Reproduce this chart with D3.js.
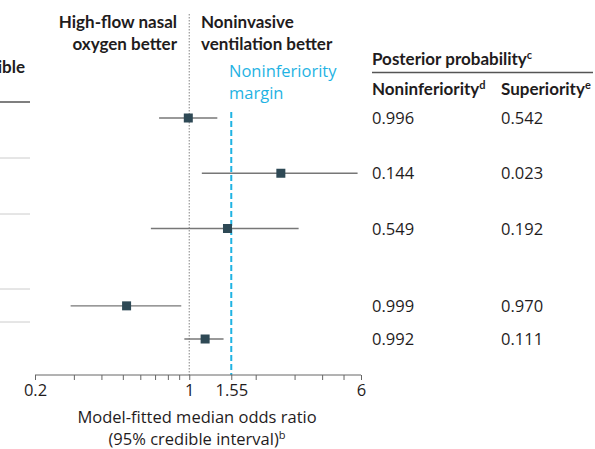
<!DOCTYPE html>
<html>
<head>
<meta charset="utf-8">
<script src="https://cdn.jsdelivr.net/npm/d3@7"></script>
<style>
  body { margin: 0; background: #fff; }
  svg { display: block; font-family: "Open Sans", sans-serif; }
  .hd { font-family: Lato, "Open Sans", sans-serif; font-weight: bold; font-size: 17px; }
</style>
</head>
<body>
<svg id="chart"></svg>
<script>
// rows of the forest plot (left labels are cut off in the source)
var rows = ["row1", "row2", "row3", "row4", "row5"];
var medianOR = [0.99, 2.6, 1.49, 0.52, 1.18];
var lowerCI = [0.73, 1.14, 0.67, 0.29, 0.95];
var upperCI = [1.34, 5.79, 3.13, 0.92, 1.43];
var pNoninf = ["0.996", "0.144", "0.549", "0.999", "0.992"];
var pSuper = ["0.542", "0.023", "0.192", "0.970", "0.111"];
var majorTicks = [0.2, 1, 1.55, 6];
var minorTicks = [0.3, 0.4, 0.5, 0.6, 0.7, 0.8, 0.9, 2, 3, 4, 5];
var margin = 1.55;
var nullValue = 1;
// row slots in the left table (rows take different numbers of text lines)
var rowSlot = [0, 5, 10, 17, 20];

var width = 595, height = 449;
var textColor = "#1f1c1d";
var cyan = "#1fb3e3";
var markColor = "#2e4955";

var svg = d3.select("#chart").attr("width", width).attr("height", height);

var x = d3.scaleLog().domain([0.2, 6]).range([35, 361]);
var y = d3.scaleLinear().domain([0, 20]).range([118, 339]);
var axisY = 375;

var data = rows.map(function (r, i) {
  return { row: r, est: medianOR[i], lo: lowerCI[i], hi: upperCI[i], slot: rowSlot[i] };
});

// left table separators (cut off)
var sepY = [102, 158, 214, 289, 322];
svg.selectAll(".sep")
  .data(sepY)
  .enter()
  .append("line")
  .attr("x1", 0).attr("x2", 30)
  .attr("y1", function (d) { return d; })
  .attr("y2", function (d) { return d; })
  .attr("stroke", function (d, i) { return i == 0 ? "#555" : "#ccc"; })
  .attr("stroke-width", function (d, i) { return i == 0 ? 1.5 : 1; });

svg.append("text")
  .attr("class", "hd")
  .attr("x", 25).attr("y", 73)
  .attr("text-anchor", "end")
  .attr("fill", textColor)
  .text("ible");

// reference lines
svg.append("line")
  .attr("x1", x(nullValue)).attr("x2", x(nullValue))
  .attr("y1", 14).attr("y2", axisY)
  .attr("stroke", "#999").attr("stroke-width", 1.2)
  .attr("stroke-dasharray", "1.5,1.5");

svg.append("line")
  .attr("x1", x(margin)).attr("x2", x(margin))
  .attr("y1", 112).attr("y2", axisY)
  .attr("stroke", cyan).attr("stroke-width", 2)
  .attr("stroke-dasharray", "6,3");

// header text
function lines(txt, xp, yp, anchor, color, cls) {
  var t = svg.append("text")
    .attr("class", cls)
    .attr("text-anchor", anchor)
    .attr("fill", color);
  if (!cls) t.style("font-size", "16.5px");
  txt.forEach(function (s, i) {
    t.append("tspan").attr("x", xp).attr("y", yp + i * 22).text(s);
  });
  return t;
}
lines(["High-flow nasal", "oxygen better"], 177, 28, "end", textColor, "hd");
lines(["Noninvasive", "ventilation better"], 201, 28, "start", textColor, "hd");
lines(["Noninferiority", "margin"], 229, 77, "start", cyan, null);

// axis
var xaxis = d3.axisBottom(x).tickValues(majorTicks.concat(minorTicks)).tickSize(5)
  .tickFormat(function (d) { return majorTicks.indexOf(d) >= 0 ? d : ""; });
var gx = svg.append("g")
  .attr("transform", "translate(0," + axisY + ")")
  .attr("font-family", "Open Sans")
  .attr("font-size", 16.5)
  .call(xaxis);
gx.attr("font-family", "Open Sans").attr("font-size", 16.5);
gx.select(".domain").attr("stroke", "#666").attr("d", "M35,0H361");
gx.selectAll(".tick line").attr("stroke", "#666");
gx.selectAll(".tick text")
  .attr("fill", textColor)
  .attr("y", 9);

var xl = svg.append("text")
  .attr("text-anchor", "middle")
  .attr("fill", textColor)
  .style("font-size", "16.5px");
xl.append("tspan").attr("x", 197).attr("y", 423).text("Model-fitted median odds ratio");
xl.append("tspan").attr("x", 197).attr("y", 445).text("(95% credible interval)");
xl.append("tspan").attr("dy", -6).style("font-size", "11px").text("b");

// CIs and points
svg.selectAll(".ci")
  .data(data)
  .enter()
  .append("line")
  .attr("class", "ci")
  .attr("x1", function (d) { return x(d.lo); })
  .attr("x2", function (d) { return x(d.hi); })
  .attr("y1", function (d) { return y(d.slot); })
  .attr("y2", function (d) { return y(d.slot); })
  .attr("stroke", "#777")
  .attr("stroke-width", 1.3);

svg.selectAll(".dot")
  .data(data)
  .enter()
  .append("rect")
  .attr("class", "dot")
  .attr("x", function (d) { return x(d.est) - 4.5; })
  .attr("y", function (d) { return y(d.slot) - 4.5; })
  .attr("width", 9)
  .attr("height", 9)
  .attr("fill", markColor);

// right table
var col1 = 372, col2 = 501;
var ph = svg.append("text")
  .attr("class", "hd")
  .attr("x", col1).attr("y", 65)
  .attr("fill", textColor);
ph.append("tspan").text("Posterior probability");
ph.append("tspan").attr("dy", -6).style("font-size", "11px").text("c");

svg.append("line")
  .attr("x1", col1).attr("x2", 593)
  .attr("y1", 72.5).attr("y2", 72.5)
  .attr("stroke", "#555").attr("stroke-width", 1.5);

function colHead(txt, sup, xp) {
  var t = svg.append("text")
    .attr("class", "hd")
    .attr("x", xp).attr("y", 95)
    .attr("fill", textColor);
  t.append("tspan").text(txt);
  t.append("tspan").attr("dy", -6).style("font-size", "11px").text(sup);
}
colHead("Noninferiority", "d", col1);
colHead("Superiority", "e", col2);

svg.selectAll(".pn")
  .data(data)
  .enter()
  .append("text")
  .attr("x", col1)
  .attr("y", function (d) { return y(d.slot) + 6; })
  .attr("fill", textColor)
  .style("font-size", "16.5px")
  .text(function (d, i) { return pNoninf[i]; });

svg.selectAll(".ps")
  .data(data)
  .enter()
  .append("text")
  .attr("x", col2)
  .attr("y", function (d) { return y(d.slot) + 6; })
  .attr("fill", textColor)
  .style("font-size", "16.5px")
  .text(function (d, i) { return pSuper[i]; });
</script>
</body>
</html>
